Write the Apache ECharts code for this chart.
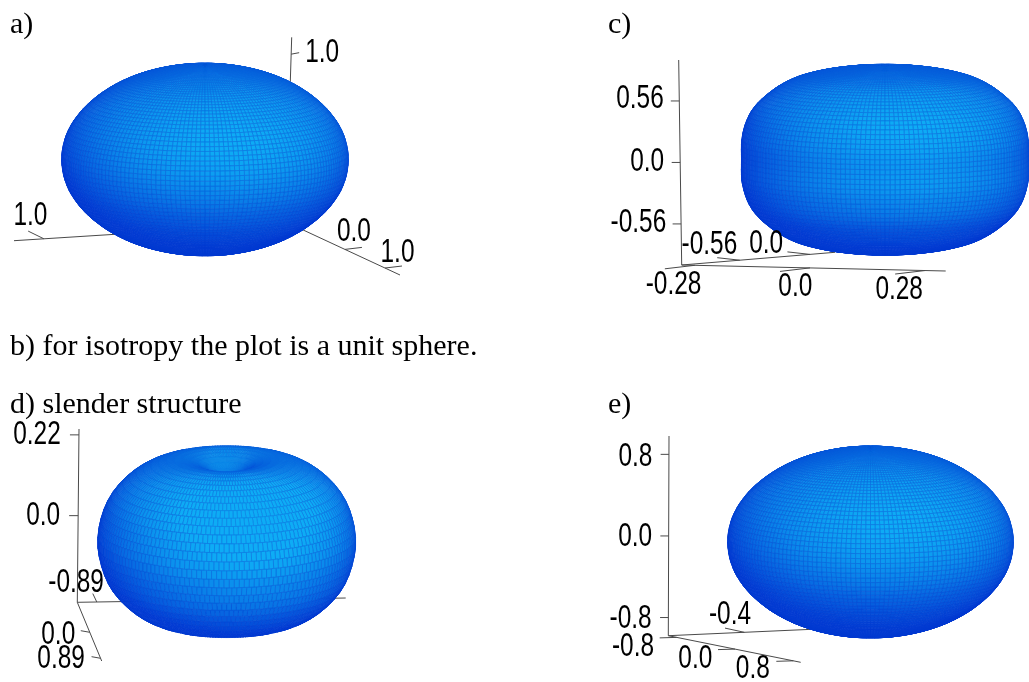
<!DOCTYPE html>
<html><head><meta charset="utf-8">
<style>html,body{margin:0;padding:0;background:#fff}#c{width:1029px;height:682px}</style>
<script src="https://cdn.jsdelivr.net/npm/echarts@6/dist/echarts.min.js"></script>
</head><body><div id="c"></div>
<script>
// Surface radius against polar angle (0, 10, ... 90 degrees; lower half mirrors it), equatorial radius = 1
const radiusA = [0.662,0.668,0.685,0.714,0.756,0.809,0.870,0.933,0.982,1.000];
const radiusC = [0.655,0.660,0.685,0.725,0.785,0.860,0.930,0.990,1.008,1.000];
const radiusD = [0.520,0.550,0.660,0.750,0.820,0.880,0.930,0.970,0.990,1.000];
const radiusE = [0.662,0.668,0.685,0.714,0.756,0.809,0.870,0.933,0.982,1.000];

// Tick labels per axis
const ticksAz = ["1.0"], ticksAl = ["1.0"], ticksAr = ["0.0","1.0"];
const ticksCz = ["0.56","0.0","-0.56"], ticksCx = ["-0.28","0.0","0.28"], ticksCy = ["-0.56","0.0"];
const ticksDz = ["0.22","0.0"], ticksDx = ["-0.89"], ticksDy = ["0.0","0.89"];
const ticksEz = ["0.8","0.0","-0.8"], ticksEx = ["-0.8","0.0","0.8"], ticksEy = ["-0.4"];

const captions = [
  {text:"a)", left:10, top:10},
  {text:"c)", left:608, top:10},
  {text:"b) for isotropy the plot is a unit sphere.", left:10, top:332},
  {text:"d) slender structure", left:10, top:390},
  {text:"e)", left:608, top:390}
];

// Layout (pixels of the 1029x682 canvas)
const surfaces = [
  {r:radiusA, cx:205, cy:159.5, R:143.3, elev:8.7, dLat:2, dLon:2, brick:false, glow:1},
  {r:radiusC, cx:885, cy:159.7, R:143.5, elev:6, dLat:2, dLon:2, brick:false, glow:1},
  {r:radiusD, cx:226.7, cy:541.7, R:129, elev:15, dLat:4, dLon:2.25, brick:true, glow:1.12},
  {r:radiusE, cx:870.5, cy:542, R:142.8, elev:8.7, dLat:2, dLon:2, brick:false, glow:1}
];
const axes = [
  {from:[291.7,37.3], to:[290.3,81.7], range:[1.16,0.739], labels:ticksAz, tick:[8,-1.5], off:[[31,-1]]},
  {from:[115,234.3], to:[14,240.7], range:[0,1.42], labels:ticksAl, tick:[-15.7,-7.7], off:[[-13.5,-22.7]]},
  {from:[301.7,229.3], to:[400,275], range:[-1.08,1.375], labels:ticksAr, tick:[17,-2], off:[[9,-17],[12.5,-15]]},
  {from:[678.7,60], to:[681.7,265], range:[0.933,-0.934], labels:ticksCz, tick:[-8.5,0], off:[[-39.3,-1.7],[-33,-1],[-42.7,-1.3]]},
  {from:[681.7,265], to:[945.7,271], range:[-0.312,0.33], labels:ticksCx, tick:[-30,3.5], off:[[-21.3,19.7],[-14.7,19.4],[-26,19.5]]},
  {from:[681.7,265], to:[835,252.3], range:[-1.023,0.2], labels:ticksCy, tick:[-22.5,-2.5], off:[[-30.3,-15.2],[-43.7,-10.4]]},
  {from:[79,429], to:[77.3,602.3], range:[0.236,-0.236], labels:ticksDz, tick:[-9,0], off:[[-42,0],[-35,0]]},
  {from:[77.3,602.3], to:[345.7,598], range:[-1.02,0.77], labels:ticksDx, tick:[-4,-8.4], off:[[-20.7,-19]]},
  {from:[77.3,602.3], to:[101.7,661], range:[-1.027,0.983], labels:ticksDy, tick:[-9,-1.6], off:[[-31.5,2.7],[-39.5,1]]},
  {from:[669,436], to:[668.3,635.7], range:[0.98,-0.978], labels:ticksEz, tick:[-8.3,0], off:[[-33.5,2.4],[-33.5,1.3],[-37.7,1]]},
  {from:[668.3,635.7], to:[800.7,662.3], range:[-0.915,0.901], labels:ticksEx, tick:[-17,0.5], off:[[-43.7,9.3],[-39.7,10.3],[-40.5,8.5]]},
  {from:[668.3,635.7], to:[811.7,629.3], range:[-1.16,0.274], labels:ticksEy, tick:[-19.3,-4.2], off:[[-14.3,-17.3]]}
];

const NUM_FONT = '33px "Liberation Sans",sans-serif';
const LIGHT = [0.18,0.42,0.89], WRAP = 0.15;
const DARK_RGB = [2,58,212], LIGHT_RGB = [14,172,245];

function radiusAt(tbl, deg){            // smooth reading of the table between its 10-degree entries
  const t = deg > 90 ? 180 - deg : deg;
  const u = t / 10, i = Math.min(8, Math.floor(u)), f = u - i;
  const g = k => k < 0 ? tbl[-k] : k > 9 ? tbl[18 - k] : tbl[k];
  const p0 = g(i-1), p1 = g(i), p2 = g(i+1), p3 = g(i+2);
  return 0.5*((2*p1)+(-p0+p2)*f+(2*p0-5*p1+4*p2-p3)*f*f+(-p0+3*p1-3*p2+p3)*f*f*f);
}

function buildQuads(s){
  const e = s.elev*Math.PI/180, ce = Math.cos(e), se = Math.sin(e), out = [];
  const vert = (th, ph) => {
    const a = th*Math.PI/180, p = ph*Math.PI/180, r = radiusAt(s.r, th);
    const rho = r*Math.sin(a), z = r*Math.cos(a), sx = rho*Math.sin(p), dy = rho*Math.cos(p);
    return [sx, z*ce - dy*se, z*se + dy*ce];
  };
  let row = 0;
  for (let th = 0; th < 180 - 1e-6; th += s.dLat, row++){
    const off = (s.brick && row % 2) ? s.dLon/2 : 0;
    for (let ph = -180; ph < 180 - 1e-6; ph += s.dLon){
      const a = vert(th, ph+off), b = vert(th, ph+off+s.dLon), c = vert(th+s.dLat, ph+off+s.dLon), d = vert(th+s.dLat, ph+off);
      const ux = c[0]-a[0], uy = c[1]-a[1], uz = c[2]-a[2], vx = d[0]-b[0], vy = d[1]-b[1], vz = d[2]-b[2];
      let nx = -(uy*vz-uz*vy), ny = -(uz*vx-ux*vz), nz = -(ux*vy-uy*vx);
      const L = Math.hypot(nx,ny,nz) || 1; nx/=L; ny/=L; nz/=L;
      if (nz < 0) continue;
      const dot = nx*LIGHT[0]+ny*LIGHT[1]+nz*LIGHT[2];
      const shade = Math.max(0, (dot+WRAP)/(1+WRAP)) * s.glow;
      const depth = (a[2]+b[2]+c[2]+d[2])/4;
      out.push({depth, v:[
        s.cx+s.R*a[0], s.cy-s.R*a[1], s.cx+s.R*b[0], s.cy-s.R*b[1],
        s.cx+s.R*c[0], s.cy-s.R*c[1], s.cx+s.R*d[0], s.cy-s.R*d[1], shade]});
    }
  }
  out.sort((p,q)=>p.depth-q.depth);
  return out.map(o=>o.v);
}

const quadData = [];
surfaces.forEach(s => buildQuads(s).forEach(q => quadData.push(q)));

const segData = [], labelData = [];
axes.forEach((ax, ai) => {
  segData.push([ax.from[0], ax.from[1], ax.to[0], ax.to[1]]);
  ax.labels.forEach((lab, i) => {
    const f = (parseFloat(lab)-ax.range[0])/(ax.range[1]-ax.range[0]);
    const bx = ax.from[0]+f*(ax.to[0]-ax.from[0]), by = ax.from[1]+f*(ax.to[1]-ax.from[1]);
    segData.push([bx, by, bx+ax.tick[0], by+ax.tick[1]]);
    labelData.push([bx+ax.off[i][0], by+ax.off[i][1], lab]);
  });
});

function mix(t, k){
  const v = Math.pow(Math.min(1,t), 1.25);
  return 'rgb(' + [0,1,2].map(i => Math.round((DARK_RGB[i]+(LIGHT_RGB[i]-DARK_RGB[i])*v)*k)).join(',') + ')';
}

const chart = echarts.init(document.getElementById('c'), null, {renderer:'canvas'});
chart.setOption({
  animation:false,
  backgroundColor:'#fff',
  title: captions.map(c => ({text:c.text, left:c.left, top:c.top, padding:0,
    textStyle:{fontFamily:'"Liberation Serif",serif', fontSize:30, fontWeight:'normal', color:'#000'}})),
  grid:{left:0, right:0, top:0, bottom:0},
  xAxis:{type:'value', min:0, max:1029, show:false},
  yAxis:{type:'value', min:0, max:682, inverse:true, show:false},
  tooltip:{show:false},
  series:[
    {type:'custom', coordinateSystem:'cartesian2d', z:1, silent:true, clip:false, data:segData,
     encode:{x:[0,2], y:[1,3]},
     renderItem:(p, api) => {
       const a = api.coord([api.value(0), api.value(1)]), b = api.coord([api.value(2), api.value(3)]);
       return {type:'line', shape:{x1:a[0], y1:a[1], x2:b[0], y2:b[1]}, style:{stroke:'#4a4a4a', lineWidth:1}};
     }},
    {type:'custom', coordinateSystem:'cartesian2d', z:2, silent:true, clip:true, progressive:0, data:quadData,
     encode:{x:[0,2,4,6], y:[1,3,5,7]},
     renderItem:(p, api) => {
       const pts = [0,2,4,6].map(i => api.coord([api.value(i), api.value(i+1)]));
       const s = api.value(8);
       return {type:'polygon', shape:{points:pts}, style:{fill:mix(s,1), stroke:mix(s*0.66,0.98), lineWidth:0.75}};
     }},
    {type:'custom', coordinateSystem:'cartesian2d', z:3, silent:true, clip:false, data:labelData,
     encode:{x:0, y:1},
     renderItem:(p, api) => {
       const a = api.coord([api.value(0), api.value(1)]);
       return {type:'text', x:a[0], y:a[1], scaleX:0.74, style:{text:labelData[p.dataIndex][2], x:0, y:0, font:NUM_FONT, fill:'#000', align:'center', verticalAlign:'middle'}};
     }}
  ]
});
</script></body></html>
